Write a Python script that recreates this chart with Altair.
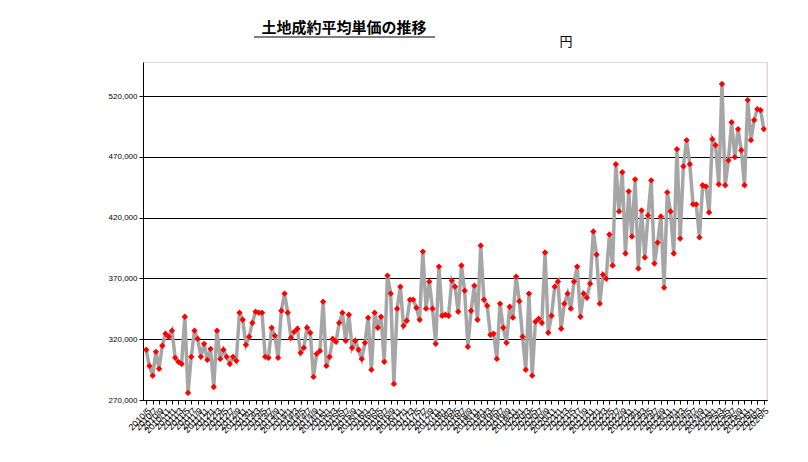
import altair as alt
import pandas as pd

# 月次の土地成約平均単価 (円), 2010/5 - 2026/5
start_year = 2010
start_month = 5
prices = [
    311300, 298000, 290000, 309600, 295600, 314600, 324500, 322000, 327000, 304700,
    301400, 299700, 338500, 275800, 305500, 327000, 320300, 305500, 316200, 303000,
    312100, 280700, 327000, 303800, 311300, 305500, 299700, 305500, 302200, 341800,
    336000, 315400, 322000, 333500, 342600, 341800, 341800, 305500, 304700, 329400,
    322800, 304700, 343400, 357500, 341800, 321200, 326100, 328600, 308800, 312900,
    329400, 325300, 289000, 308000, 310400, 350900, 298000, 305500, 320300, 317900,
    333500, 341800, 318700, 340100, 312900, 318700, 311300, 303800, 317000, 337700,
    294800, 341800, 329400, 338500, 301400, 372300, 357500, 283200,
    345100, 363200, 331000, 335200, 352500, 352500, 345900, 336000, 392100, 345100,
    367400, 345100, 316200, 379700, 339300, 340100, 339300, 368200, 363200, 342600,
    380600, 359900, 313700, 343400, 364000, 336000, 397000, 352500, 347600, 323600,
    324500, 303800, 349200, 329400, 317000, 346700, 337700, 371500, 351300,
    322000, 294800, 357500, 290000, 334400, 336800, 333500, 391300, 325300, 339300,
    363200, 367400, 328600, 349200, 357500, 345100, 367400, 379700, 338500, 357500,
    354200, 365700, 408600, 389600, 349200, 373100, 369800, 406100, 380600, 463900,
    425100, 457300, 390500, 441600, 404500, 451500, 378100,
    425900, 387200, 421800, 450700, 382200, 399500, 421000, 362400, 440800, 425100,
    390500, 476300, 402800, 462200, 483700, 464000, 430900, 430900, 403700, 446600,
    445700, 424300, 484500, 479600, 447400, 529900, 446600, 467200, 498500, 469700,
    492800, 475400, 446600, 516700, 483700, 500200, 509300, 508400, 492800,
]

months = []
y, m = start_year, start_month
for _ in prices:
    months.append(f"{y}/{m}")
    m += 1
    if m > 12:
        m, y = 1, y + 1

df = pd.DataFrame({"month": months, "price": prices})
label_months = [mo for mo in months if int(mo.split("/")[1]) % 2 == 1]

font = "Noto Sans CJK JP"
x_enc = alt.X(
    "month:O", sort=None, scale=alt.Scale(type="point", padding=1.2),
    axis=alt.Axis(values=label_months, labelAngle=-45, labelAlign="right", labelFontSize=9,
                  labelColor="black", domainColor="black", tickColor="black", tickSize=4,
                  labelOverlap=False, title=None, grid=False, labelPadding=2),
)
y_enc = alt.Y(
    "price:Q", scale=alt.Scale(domain=[270000, 548000], nice=False, zero=False),
    axis=alt.Axis(values=[270000, 320000, 370000, 420000, 470000, 520000], format=",d",
                  labelFontSize=8, labelColor="black", domainColor="black", tickColor="black",
                  tickSize=4, gridColor="black", gridOpacity=1, title=None),
)

base = alt.Chart(df).encode(x=x_enc, y=y_enc)
line = base.mark_line(color="#A6A6A6", strokeWidth=3.5)
points = base.mark_point(shape="diamond", filled=True, color="#FF0000", size=40, opacity=1)

title = alt.Chart(pd.DataFrame({"t": ["土地成約平均単価の推移"]})).mark_text(
    font=font, fontSize=15, fontWeight="bold", color="black"
).encode(text="t:N", x=alt.value(201), y=alt.value(-34))
underline = alt.Chart(pd.DataFrame({"t": [0]})).mark_rule(color="black", strokeWidth=1).encode(
    x=alt.value(111), x2=alt.value(292), y=alt.value(-25)
)
unit = alt.Chart(pd.DataFrame({"t": ["円"]})).mark_text(
    font=font, fontSize=13, color="black"
).encode(text="t:N", x=alt.value(423), y=alt.value(-20))
right_edge = alt.Chart(pd.DataFrame({"t": [0]})).mark_rule(color="#F0D0D8", strokeWidth=1).encode(
    x=alt.value(624), y=alt.value(0), y2=alt.value(338)
)
frame = alt.Chart(pd.DataFrame({"t": [0]})).mark_rect(
    fill=None, stroke="black", strokeWidth=1
).encode(x=alt.value(-142.5), x2=alt.value(664.5), y=alt.value(-61.5), y2=alt.value(398.5))

chart = (
    alt.layer(line, points, title, underline, unit, right_edge, frame)
    .properties(width=624, height=338, autosize=alt.AutoSizeParams(type="none"),
                padding={"left": 135, "top": 54, "right": 10, "bottom": 60})
    .configure_view(stroke=None)
    .configure_axis(labelFont="Liberation Sans")
    .configure(background="white")
)

chart.save("out.html", embed_options={"renderer": "svg", "actions": False})
